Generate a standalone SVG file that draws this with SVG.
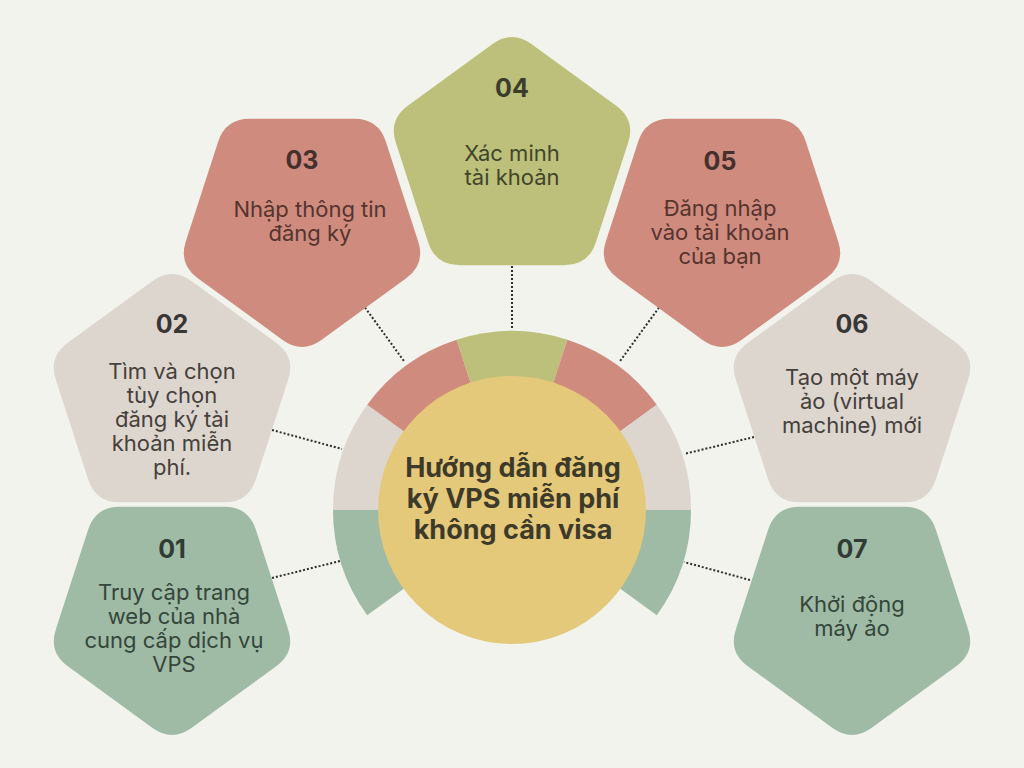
<svg xmlns="http://www.w3.org/2000/svg" xmlns:xlink="http://www.w3.org/1999/xlink" width="1024" height="768" viewBox="0 0 1024 768">
  <defs>
    <path id="pent" d="M -19.4,-115.9 Q 0,-130 19.4,-115.9 L 104.2,-54.3 Q 123.6,-40.2 116.2,-17.4 L 83.8,82.4 Q 76.4,105.2 52.4,105.2 L -52.4,105.2 Q -76.4,105.2 -83.8,82.4 L -116.2,-17.4 Q -123.6,-40.2 -104.2,-54.3 Z"/>
    <style>
      .num { font-family: Inter, "Liberation Sans", sans-serif; font-weight: 700; font-size: 25px; text-anchor: middle; }
      .txt { font-family: Inter, "Liberation Sans", sans-serif; font-weight: 400; font-size: 22px; text-anchor: middle; }
      .title { font-family: Inter, "Liberation Sans", sans-serif; font-weight: 700; font-size: 27px; text-anchor: middle; fill: #3e3a2a; }
      .green { fill: #9fbba6; }
      .beige { fill: #ddd6cf; }
      .salmon { fill: #d08b7f; }
      .olive { fill: #bcc07a; }
      .tg { fill: #34463a; } .ng { fill: #2f3b33; }
      .tb { fill: #45403b; } .nb { fill: #3a3633; }
      .ts { fill: #55342e; } .ns { fill: #45302c; }
      .to { fill: #41452a; } .no { fill: #3a3c2c; }
      .dot { stroke: #2e2e2e; stroke-width: 2; stroke-dasharray: 2 2; fill: none; }
    </style>
  </defs>
  <rect width="1024" height="768" fill="#f2f3ec"/>

  <g id="connectors">
    <line class="dot" x1="512" y1="266" x2="512" y2="330"/>
    <line class="dot" x1="365" y1="307.5" x2="405" y2="362.5"/>
    <line class="dot" x1="659" y1="307.5" x2="619" y2="362.5"/>
    <line class="dot" x1="272" y1="430" x2="342" y2="449"/>
    <line class="dot" x1="272" y1="578" x2="340" y2="561"/>
    <line class="dot" x1="754" y1="437" x2="684" y2="454"/>
    <line class="dot" x1="750" y1="580" x2="684" y2="562"/>
  </g>

  <g id="hub">
    <path class="green" d="M512,510 L367.2,615.2 A179,179 0 0 1 333,510 Z"/>
    <path class="beige" d="M512,510 L333,510 A179,179 0 0 1 367.2,404.8 Z"/>
    <path class="salmon" d="M512,510 L367.2,404.8 A179,179 0 0 1 456.7,339.8 Z"/>
    <path class="olive" d="M512,510 L456.7,339.8 A179,179 0 0 1 567.3,339.8 Z"/>
    <path class="salmon" d="M512,510 L567.3,339.8 A179,179 0 0 1 656.8,404.8 Z"/>
    <path class="beige" d="M512,510 L656.8,404.8 A179,179 0 0 1 691,510 Z"/>
    <path class="green" d="M512,510 L691,510 A179,179 0 0 1 656.8,615.2 Z"/>
    <circle cx="512" cy="510" r="134" fill="#e5c97b"/>
    <text class="title" x="513" y="477">Hướng dẫn đăng</text>
    <text class="title" x="513" y="508">ký VPS miễn phí</text>
    <text class="title" x="513" y="539">không cần visa</text>
  </g>

  <g id="step01">
    <use xlink:href="#pent" class="green" transform="translate(172,612) scale(1,-1)"/>
    <text class="num ng" x="172" y="558">01</text>
    <text class="txt tg" x="174" y="600">Truy cập trang</text>
    <text class="txt tg" x="174" y="624">web của nhà</text>
    <text class="txt tg" x="174" y="648">cung cấp dịch vụ</text>
    <text class="txt tg" x="174" y="672">VPS</text>
  </g>

  <g id="step02">
    <use xlink:href="#pent" class="beige" transform="translate(172,397)"/>
    <text class="num nb" x="172" y="333">02</text>
    <text class="txt tb" x="172" y="379">Tìm và chọn</text>
    <text class="txt tb" x="172" y="403">tùy chọn</text>
    <text class="txt tb" x="172" y="427">đăng ký tài</text>
    <text class="txt tb" x="172" y="451">khoản miễn</text>
    <text class="txt tb" x="172" y="475">phí.</text>
  </g>

  <g id="step03">
    <use xlink:href="#pent" class="salmon" transform="translate(302,224) scale(1,-1)"/>
    <text class="num ns" x="302" y="169">03</text>
    <text class="txt ts" x="310" y="217">Nhập thông tin</text>
    <text class="txt ts" x="310" y="241">đăng ký</text>
  </g>

  <g id="step04">
    <use xlink:href="#pent" class="olive" transform="translate(512,160)"/>
    <text class="num no" x="512" y="97">04</text>
    <text class="txt to" x="512" y="161">Xác minh</text>
    <text class="txt to" x="512" y="185">tài khoản</text>
  </g>

  <g id="step05">
    <use xlink:href="#pent" class="salmon" transform="translate(722,224) scale(1,-1)"/>
    <text class="num ns" x="720" y="170">05</text>
    <text class="txt ts" x="720" y="216">Đăng nhập</text>
    <text class="txt ts" x="720" y="240">vào tài khoản</text>
    <text class="txt ts" x="720" y="264">của bạn</text>
  </g>

  <g id="step06">
    <use xlink:href="#pent" class="beige" transform="translate(852,397)"/>
    <text class="num nb" x="852" y="333">06</text>
    <text class="txt tb" x="852" y="385">Tạo một máy</text>
    <text class="txt tb" x="852" y="409">ảo (virtual</text>
    <text class="txt tb" x="852" y="433">machine) mới</text>
  </g>

  <g id="step07">
    <use xlink:href="#pent" class="green" transform="translate(852,612) scale(1,-1)"/>
    <text class="num ng" x="852" y="558">07</text>
    <text class="txt tg" x="852" y="612">Khởi động</text>
    <text class="txt tg" x="852" y="636">máy ảo</text>
  </g>
</svg>
